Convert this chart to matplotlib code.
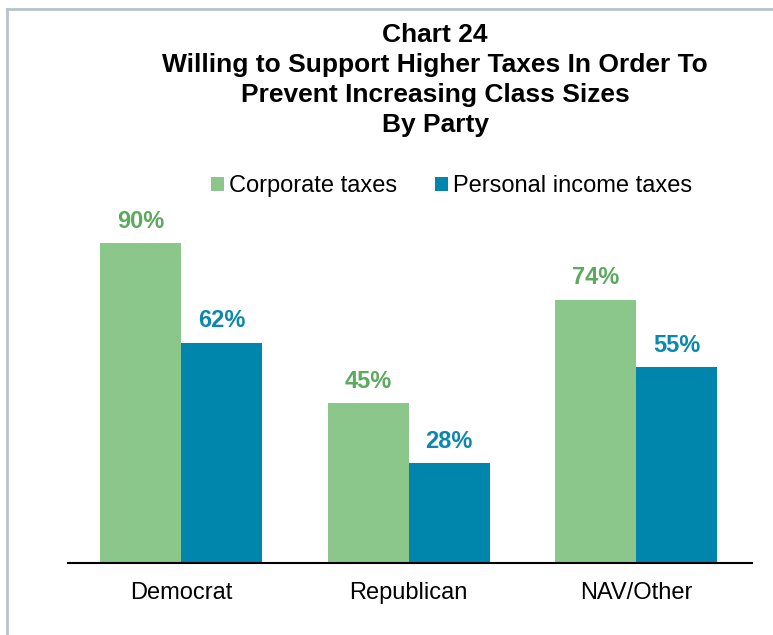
import matplotlib.pyplot as plt
import numpy as np

plt.rcParams['font.family'] = ['Liberation Sans', 'DejaVu Sans']

parties = ["Democrat", "Republican", "NAV/Other"]
corporate = [90, 45, 74]
personal = [62, 28, 55]
series_names = ["Corporate taxes", "Personal income taxes"]

green = "#8BC78A"
green_text = "#5BAA5E"
blue = "#0086AD"
blue_text = "#0A88AE"

fig = plt.figure(figsize=(7.73, 6.35), dpi=100)
ax = fig.add_axes([0.088, 0.1134, 0.885, 0.56])

x = np.arange(len(parties))
w = 0.356
b1 = ax.bar(x - w / 2, corporate, w, color=green, label=series_names[0])
b2 = ax.bar(x + w / 2, personal, w, color=blue, label=series_names[1])

for rect, v in zip(b1, corporate):
    ax.annotate(f"{v}%", (rect.get_x() + rect.get_width() / 2, v),
                xytext=(0, 7.5), textcoords="offset points", ha="center", va="bottom",
                fontsize=17, fontweight="bold", color=green_text)
for rect, v in zip(b2, personal):
    ax.annotate(f"{v}%", (rect.get_x() + rect.get_width() / 2, v),
                xytext=(0, 7.5), textcoords="offset points", ha="center", va="bottom",
                fontsize=17, fontweight="bold", color=blue_text)

ax.set_xlim(-0.497, 2.51)
ax.set_ylim(0, 100)
ax.set_xticks(x)
ax.set_xticklabels(parties, fontsize=17)
ax.tick_params(axis="x", length=0, pad=14)
ax.set_yticks([])
for s in ["top", "right", "left"]:
    ax.spines[s].set_visible(False)
ax.spines["bottom"].set_linewidth(1.5)

fig.text(0.563, 0.963, "Chart 24\nWilling to Support Higher Taxes In Order To\n"
         "Prevent Increasing Class Sizes\nBy Party",
         ha="center", va="top", fontsize=19, fontweight="bold", linespacing=1.3)

fig.legend(handles=[b1, b2], labels=series_names, loc="center",
           bbox_to_anchor=(0.584, 0.707), ncol=2, frameon=False, fontsize=17,
           handlelength=0.55, handleheight=0.55, handletextpad=0.2, columnspacing=1.6)

# thin grey frame along the top and left edges
fig.add_artist(plt.Line2D([0.0097, 0.0097], [0, 0.9858], color="#B8C4CA", lw=2))
fig.add_artist(plt.Line2D([0.0097, 1.0], [0.9858, 0.9858], color="#B8C4CA", lw=2))

fig.savefig("out.png", dpi=100)
